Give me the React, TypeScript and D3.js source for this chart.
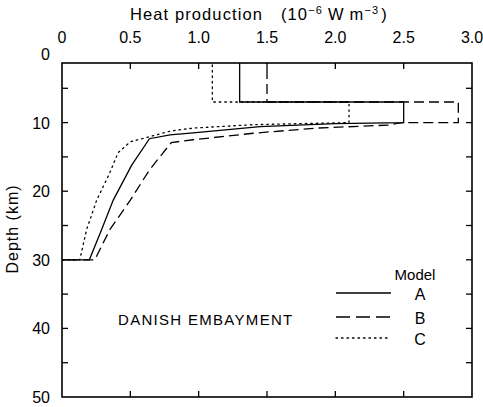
import React from 'react'
import * as d3 from 'd3'

// heat production (1e-6 W m-3) vs depth (km)
const depthA = [0, 7, 7, 10, 10.15, 10.6, 11.5, 11.8, 12.35, 16.2, 21.3, 26.1, 30, 30]
const heatA = [1.3, 1.3, 2.5, 2.5, 2.0, 1.45, 0.96, 0.79, 0.64, 0.51, 0.375, 0.28, 0.2, 0]

const depthB = [0, 7, 7, 10, 10, 10.1, 10.35, 10.8, 11.55, 12.5, 12.9, 16.9, 21.3, 25.6, 30, 30]
const heatB = [1.5, 1.5, 2.9, 2.9, 2.5, 2.45, 2.4, 1.86, 1.4, 0.96, 0.8, 0.64, 0.5, 0.35, 0.24, 0]

const depthC = [0, 7, 7, 10, 10.3, 10.8, 11.2, 11.9, 12.8, 14.4, 17.3, 21.3, 25.6, 30, 30]
const heatC = [1.1, 1.1, 2.1, 2.1, 1.4, 0.96, 0.8, 0.67, 0.5, 0.41, 0.35, 0.254, 0.18, 0.13, 0]

const heatTicks = [0, 0.5, 1.0, 1.5, 2.0, 2.5, 3.0]
const heatLabels = ['0', '0.5', '1.0', '1.5', '2.0', '2.5', '3.0']
const depthTicks = [0, 10, 20, 30, 40, 50]
const minorDepth = [5, 10, 15, 20, 25, 30, 35, 40, 45]

const models = ['A', 'B', 'C']
const dashes = ['none', '10,5', '1.5,4']

export default function App() {
  const x = d3.scaleLinear().domain([0, 3]).range([62, 472])
  const y = d3.scaleLinear().domain([0, 50]).range([54, 397])
  const frameTop = 63
  const line = d3.line<[number, number]>().x(d => x(d[0])).y(d => y(d[1]))

  const series = [
    heatA.map((h, i) => [h, depthA[i]] as [number, number]),
    heatB.map((h, i) => [h, depthB[i]] as [number, number]),
    heatC.map((h, i) => [h, depthC[i]] as [number, number]),
  ]
  const font = '"Liberation Sans", Arial, sans-serif'

  return (
    <svg width={483} height={407} style={{ position: 'absolute', left: 0, top: 0, background: '#fff' }} fontFamily={font}>
      <defs>
        <clipPath id="plot">
          <rect x={x(0)} y={frameTop} width={x(3) - x(0)} height={y(50) - frameTop} />
        </clipPath>
      </defs>
      <text x={130} y={20} fontSize={16.5} letterSpacing={1.1}>
        Heat production
        <tspan dx={18}>(10</tspan><tspan dy={-6} fontSize={11}>−6</tspan>
        <tspan dy={6} dx={5}>W</tspan><tspan dx={5}>m</tspan><tspan dy={-6} fontSize={11}>−3</tspan><tspan dy={6} dx={2}>)</tspan>
      </text>
      <text transform="translate(18,229) rotate(-90)" fontSize={16} textAnchor="middle" letterSpacing={1}>Depth (km)</text>

      {heatTicks.map((t, i) => (
        <g key={'h' + i}>
          <text x={x(t)} y={43} fontSize={16} textAnchor="middle">{heatLabels[i]}</text>
          {i > 0 && i < heatTicks.length - 1 && (
            <>
              <line x1={x(t)} x2={x(t)} y1={frameTop} y2={frameTop + 6} stroke="#000" strokeWidth={1.3} />
              <line x1={x(t)} x2={x(t)} y1={y(50)} y2={y(50) - 6} stroke="#000" strokeWidth={1.3} />
            </>
          )}
        </g>
      ))}
      {depthTicks.map(t => (
        <text key={'d' + t} x={50} y={y(t) + 6} fontSize={16} textAnchor="end">{t}</text>
      ))}
      {minorDepth.map(t => (
        <g key={'m' + t}>
          <line x1={x(0)} x2={x(0) + 6} y1={y(t)} y2={y(t)} stroke="#000" strokeWidth={1.3} />
          <line x1={x(3)} x2={x(3) - 6} y1={y(t)} y2={y(t)} stroke="#000" strokeWidth={1.3} />
        </g>
      ))}
      <rect x={x(0)} y={frameTop} width={x(3) - x(0)} height={y(50) - frameTop} fill="none" stroke="#000" strokeWidth={1.6} />

      <g clipPath="url(#plot)">
        {series.map((s, i) => (
          <path key={models[i]} d={line(s) || ''} fill="none" stroke="#000" strokeWidth={1.3}
            strokeDasharray={dashes[i]} strokeLinecap={i === 2 ? 'round' : 'butt'} />
        ))}
      </g>

      <text x={118} y={325} fontSize={15} letterSpacing={1.3}>DANISH EMBAYMENT</text>
      <text x={415} y={280} fontSize={15} textAnchor="middle">Model</text>
      {models.map((m, i) => {
        const ly = [293, 317, 338][i]
        return (
          <g key={'l' + m}>
            <line x1={336} x2={391} y1={ly} y2={ly} stroke="#000" strokeWidth={1.3}
              strokeDasharray={dashes[i] === '10,5' ? '14,6' : dashes[i]} strokeLinecap={i === 2 ? 'round' : 'butt'} />
            <text x={420} y={ly + 7} fontSize={16} textAnchor="middle">{m}</text>
          </g>
        )
      })}
    </svg>
  )
}
